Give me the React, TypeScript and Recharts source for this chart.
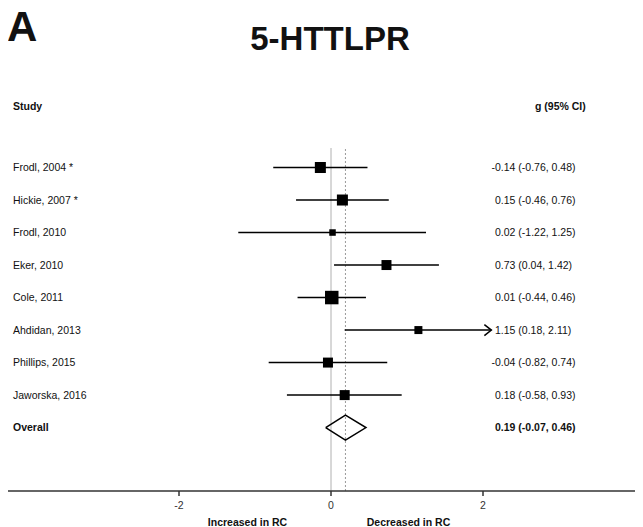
import React from "react";
import { ComposedChart, Scatter, XAxis, YAxis, ReferenceLine } from "recharts";

const studies = ["Frodl, 2004 *", "Hickie, 2007 *", "Frodl, 2010", "Eker, 2010", "Cole, 2011", "Ahdidan, 2013", "Phillips, 2015", "Jaworska, 2016"];
const effect = [-0.14, 0.15, 0.02, 0.73, 0.01, 1.15, -0.04, 0.18];
const lower = [-0.76, -0.46, -1.22, 0.04, -0.44, 0.18, -0.82, -0.58];
const upper = [0.48, 0.76, 1.25, 1.42, 0.46, 2.11, 0.74, 0.93];
// study weights (%)
const weights = [14.6, 14.6, 5.1, 12.0, 21.9, 7.7, 12.0, 12.0];
const overall = { label: "Overall", g: 0.19, lo: -0.07, hi: 0.46 };
const xTicks = [-2, 0, 2];

const fmt = (v: number) => v.toFixed(2);
const ciText = (g: number, lo: number, hi: number) => `${fmt(g)} (${fmt(lo)}, ${fmt(hi)})`;

const rows = studies.map((s, i) => ({ x: effect[i], y: i, w: weights[i], lo: lower[i], hi: upper[i], name: s }));
const overallRow = studies.length;
const arrows = rows.filter((r) => r.hi > 2).map((r) => ({ x: r.hi, y: r.y }));
const diamond = [
  { x: overall.lo, y: overallRow },
  { x: overall.g, y: overallRow - 0.385 },
  { x: overall.hi, y: overallRow },
  { x: overall.g, y: overallRow + 0.385 },
  { x: overall.lo, y: overallRow },
];
const labelRows = [
  ...rows.map((r) => ({ x: r.x, y: r.y, left: r.name, right: ciText(r.x, r.lo, r.hi), bold: false })),
  { x: overall.g, y: overallRow, left: overall.label, right: ciText(overall.g, overall.lo, overall.hi), bold: true },
];

const FONT = '"Liberation Sans", Arial, Helvetica, sans-serif';

function RowLabel(props: any) {
  const { cy, payload } = props;
  const rx = payload.right.startsWith("-") ? 483.5 : 487;
  const weight = payload.bold ? 700 : 400;
  return (
    <g>
      <text x={5} y={cy} dy="0.35em" fontSize={10.5} fill="#111" fontWeight={weight} textAnchor="start">
        {payload.left}
      </text>
      <text x={rx} y={cy} dy="0.35em" fontSize={10.5} fill="#111" fontWeight={weight} textAnchor="start">
        {payload.right}
      </text>
    </g>
  );
}

function Square(props: any) {
  const { cx, cy, payload } = props;
  const s = Math.sqrt(payload.w * 8.3);
  return <rect x={cx - s / 2} y={cy - s / 2} width={s} height={s} fill="#000" />;
}

function ArrowHead(props: any) {
  const { cx, cy } = props;
  return <polyline points={`${cx - 7},${cy - 5.5} ${cx},${cy} ${cx - 7},${cy + 5.5}`} fill="none" stroke="#000" strokeWidth={1.5} />;
}

const abs = (left: number, top: number, extra: React.CSSProperties = {}): React.CSSProperties => ({
  position: "absolute",
  left,
  top,
  lineHeight: 1,
  whiteSpace: "nowrap",
  ...extra,
});

export default function App() {
  return (
    <div style={{ position: "relative", width: 627, height: 519, fontFamily: FONT, color: "#111" }}>
      <div style={abs(-1, -2, { fontSize: 42, fontWeight: 700 })}>A</div>
      <div style={abs(322, 30, { fontSize: 33, fontWeight: 700, transform: "translate(-50%, -50%)" })}>5-HTTLPR</div>
      <div style={abs(5, 98, { fontSize: 10.5, fontWeight: 700, transform: "translateY(-50%)" })}>Study</div>
      <div style={abs(527, 98, { fontSize: 10.5, fontWeight: 700, transform: "translateY(-50%)" })}>g (95% CI)</div>
      <div style={abs(239.5, 514, { fontSize: 10.5, fontWeight: 700, transform: "translate(-50%, -50%)" })}>Increased in RC</div>
      <div style={abs(400.5, 514, { fontSize: 10.5, fontWeight: 700, transform: "translate(-50%, -50%)" })}>Decreased in RC</div>

      <ComposedChart width={627} height={519} margin={{ top: 140, right: 0, bottom: 0, left: 0 }} style={{ fontFamily: FONT }}>
        <XAxis
          type="number"
          dataKey="x"
          domain={[-4.25, 4]}
          ticks={xTicks}
          allowDataOverflow
          height={36}
          tickSize={5}
          tickMargin={6}
          stroke="#333"
          axisLine={{ stroke: "#333", strokeWidth: 1.5 }}
          tickLine={{ stroke: "#333", strokeWidth: 1.5 }}
          tick={{ fontSize: 10.5, fill: "#333" }}
        />
        <YAxis type="number" dataKey="y" domain={[-0.6, 9.95]} reversed hide allowDataOverflow />
        <ReferenceLine x={0} stroke="#b0b0b0" strokeWidth={1} />
        <ReferenceLine x={overall.g} stroke="#999" strokeDasharray="2 2" strokeWidth={1} />
        {rows.map((r) => (
          <ReferenceLine
            key={r.name}
            segment={[
              { x: r.lo, y: r.y },
              { x: r.hi, y: r.y },
            ]}
            stroke="#000"
            strokeWidth={1.5}
          />
        ))}
        <Scatter data={labelRows} shape={<RowLabel />} isAnimationActive={false} />
        <Scatter data={rows} shape={<Square />} isAnimationActive={false} />
        <Scatter data={arrows} shape={<ArrowHead />} isAnimationActive={false} />
        <Scatter
          data={diamond}
          line={{ stroke: "#000", strokeWidth: 1.5, fill: "none" }}
          lineType="joint"
          shape={() => <g />}
          isAnimationActive={false}
        />
      </ComposedChart>
    </div>
  );
}
